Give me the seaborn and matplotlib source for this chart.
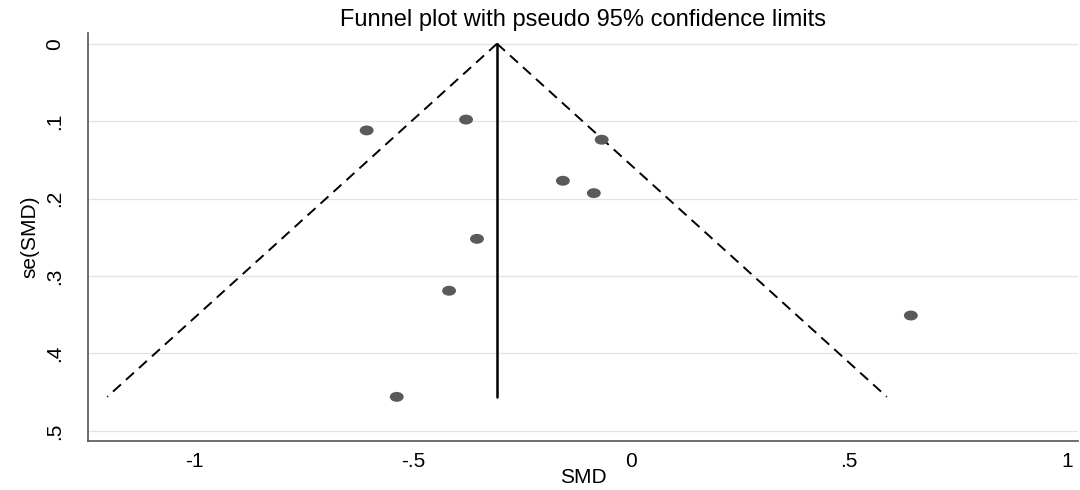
import numpy as np
import pandas as pd
import seaborn as sns
import matplotlib.pyplot as plt
from matplotlib.path import Path

# study estimates
smd = [-0.606, -0.378, -0.067, -0.156, -0.085, -0.353, -0.417, 0.642, -0.537]
se_smd = [0.112, 0.098, 0.124, 0.177, 0.193, 0.252, 0.319, 0.351, 0.456]

# pooled estimate and pseudo 95% limits (ends)
pooled = -0.307
se_range = [0.0, 0.456]
lower_lim = [-0.307, -1.201]
upper_lim = [-0.307, 0.587]

xticks = [-1, -0.5, 0, 0.5, 1]
xtick_labels = ["-1", "-.5", "0", ".5", "1"]
yticks = [0, 0.1, 0.2, 0.3, 0.4, 0.5]
ytick_labels = ["0", ".1", ".2", ".3", ".4", ".5"]

df = pd.DataFrame({"SMD": smd, "se(SMD)": se_smd})

sns.set_style("white")
plt.rcParams["font.family"] = ["Liberation Sans", "DejaVu Sans"]
plt.rcParams["text.color"] = "black"
plt.rcParams["axes.labelcolor"] = "black"
plt.rcParams["xtick.color"] = "black"
plt.rcParams["ytick.color"] = "black"

# the original image is stretched sideways, so the dots are wide ellipses
circ = Path.unit_circle()
wide_dot = Path(circ.vertices * [1.4, 1.0], circ.codes)

fig = plt.figure(figsize=(10.8, 4.9), dpi=100)
ax = fig.add_axes([0.0815, 0.1, 0.9165, 0.833])

for y in yticks:
    ax.axhline(y, color="#e3e3e3", lw=0.9, zorder=0)

ax.plot(lower_lim, se_range, color="black", lw=1.4, ls=(0, (5.5, 3.5)), zorder=2)
ax.plot(upper_lim, se_range, color="black", lw=1.4, ls=(0, (5.5, 3.5)), zorder=2)
ax.plot([pooled, pooled], se_range, color="black", lw=1.8, zorder=2)

sns.scatterplot(data=df, x="SMD", y="se(SMD)", color="#5a5a5a", s=100,
                marker=wide_dot, edgecolor="none", ax=ax, zorder=3)

ax.set_xlim(-1.245, 1.025)
ax.set_ylim(0.513, -0.014)
ax.set_xticks(xticks)
ax.set_xticklabels(xtick_labels, fontsize=15)
ax.set_yticks(yticks)
ax.set_yticklabels(ytick_labels, fontsize=15, rotation=90, va="center")

ax.tick_params(axis="x", direction="out", length=5, width=1, color="#555555", pad=3)
ax.tick_params(axis="y", direction="out", length=8, width=1, color="#555555", pad=9)
for side in ["top", "right"]:
    ax.spines[side].set_visible(False)
for side in ["left", "bottom"]:
    ax.spines[side].set_color("#555555")
    ax.spines[side].set_linewidth(1.2)

ax.set_xlabel("SMD", fontsize=15, labelpad=-2)
ax.set_ylabel("se(SMD)", fontsize=15, labelpad=4)
ax.set_title("Funnel plot with pseudo 95% confidence limits", fontsize=17, pad=5)

fig.savefig("out.png", dpi=100)
